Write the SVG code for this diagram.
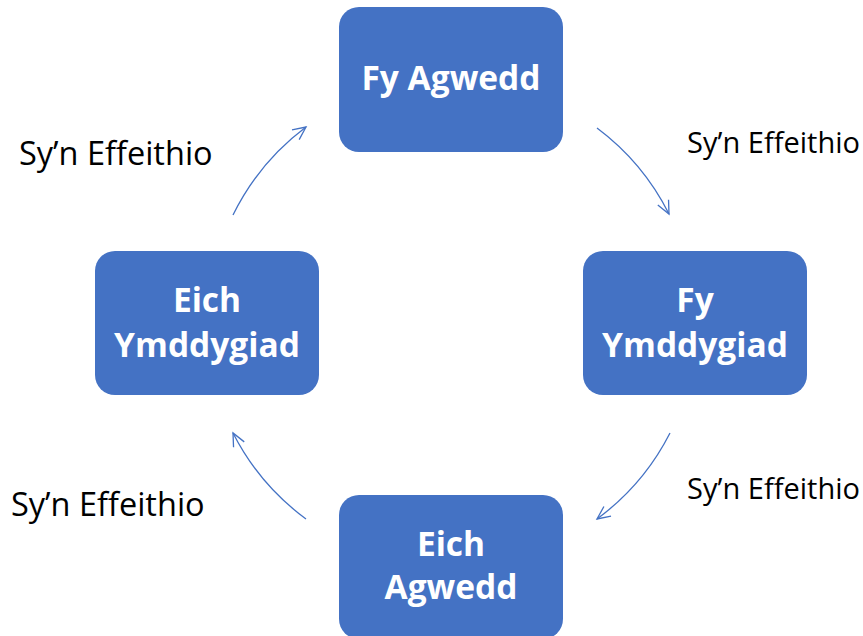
<svg xmlns="http://www.w3.org/2000/svg" width="863" height="636" viewBox="0 0 863 636">
<style>
.box{fill:#4472C4;}
.bt{font-family:"Open Sans","Liberation Sans",sans-serif;font-weight:bold;font-size:33.5px;fill:#fff;text-anchor:middle;}
.lb{font-family:"Open Sans","Liberation Sans",sans-serif;font-size:29px;fill:#000;}
.lb2{font-family:"Open Sans","Liberation Sans",sans-serif;font-size:32.5px;fill:#000;}
.c{fill:none;stroke:#4472C4;stroke-width:1.3;marker-end:url(#ah);}
</style>
<defs>
<marker id="ah" markerWidth="20" markerHeight="20" refX="14" refY="7" orient="auto" markerUnits="userSpaceOnUse">
<path d="M1,1 L14,7 L1,13" fill="none" stroke="#4472C4" stroke-width="1.3"/>
</marker>
</defs>
<rect width="863" height="636" fill="#fff"/>
<g id="connectors">
<path class="c" d="M597,128 A244,244 0 0 1 669,214"/>
<path class="c" d="M670,433 A244,244 0 0 1 597,519"/>
<path class="c" d="M306,519 A244,244 0 0 1 233,433"/>
<path class="c" d="M233,215 A244,244 0 0 1 306,127"/>
</g>
<g id="node-fy-agwedd">
<rect class="box" x="339" y="7" width="224" height="145" rx="20"/>
<text class="bt" x="451" y="90">Fy Agwedd</text>
</g>
<g id="node-fy-ymddygiad">
<rect class="box" x="583" y="251" width="224" height="144" rx="20"/>
<text class="bt" x="695" y="312">Fy</text>
<text class="bt" x="695" y="357">Ymddygiad</text>
</g>
<g id="node-eich-agwedd">
<rect class="box" x="339" y="495" width="224" height="144" rx="20"/>
<text class="bt" x="451" y="556">Eich</text>
<text class="bt" x="451" y="599">Agwedd</text>
</g>
<g id="node-eich-ymddygiad">
<rect class="box" x="95" y="251" width="224" height="144" rx="20"/>
<text class="bt" x="207" y="312">Eich</text>
<text class="bt" x="207" y="357">Ymddygiad</text>
</g>
<g id="labels">
<text class="lb" x="687" y="153" textLength="173" lengthAdjust="spacing">Sy’n Effeithio</text>
<text class="lb" x="687" y="499" textLength="173" lengthAdjust="spacing">Sy’n Effeithio</text>
<text class="lb2" x="19" y="165">Sy’n Effeithio</text>
<text class="lb2" x="11" y="516">Sy’n Effeithio</text>
</g>
</svg>
